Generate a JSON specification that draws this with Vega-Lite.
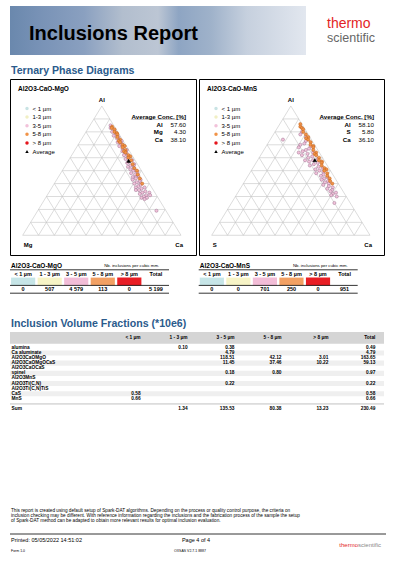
{
"$schema": "https://vega.github.io/schema/vega-lite/v6.json",
"background": "white",
"padding": {"left": 9, "top": 6, "right": 0, "bottom": 0},
"config": {
  "font": "Liberation Sans",
  "view": {"stroke": null},
  "locale": {"number": {"decimal": ".", "thousands": " ", "grouping": [3], "currency": ["", ""]}}
},
"datasets": {
  "grid": [
    {"a1":0,"c1":0,"a2":0,"c2":100},{"a1":10,"c1":0,"a2":10,"c2":90},{"a1":20,"c1":0,"a2":20,"c2":80},{"a1":30,"c1":0,"a2":30,"c2":70},{"a1":40,"c1":0,"a2":40,"c2":60},{"a1":50,"c1":0,"a2":50,"c2":50},{"a1":60,"c1":0,"a2":60,"c2":40},{"a1":70,"c1":0,"a2":70,"c2":30},{"a1":80,"c1":0,"a2":80,"c2":20},{"a1":90,"c1":0,"a2":90,"c2":10},
    {"a1":100,"c1":0,"a2":0,"c2":0},{"a1":90,"c1":10,"a2":0,"c2":10},{"a1":80,"c1":20,"a2":0,"c2":20},{"a1":70,"c1":30,"a2":0,"c2":30},{"a1":60,"c1":40,"a2":0,"c2":40},{"a1":50,"c1":50,"a2":0,"c2":50},{"a1":40,"c1":60,"a2":0,"c2":60},{"a1":30,"c1":70,"a2":0,"c2":70},{"a1":20,"c1":80,"a2":0,"c2":80},{"a1":10,"c1":90,"a2":0,"c2":90},
    {"a1":100,"c1":0,"a2":0,"c2":100},{"a1":90,"c1":0,"a2":0,"c2":90},{"a1":80,"c1":0,"a2":0,"c2":80},{"a1":70,"c1":0,"a2":0,"c2":70},{"a1":60,"c1":0,"a2":0,"c2":60},{"a1":50,"c1":0,"a2":0,"c2":50},{"a1":40,"c1":0,"a2":0,"c2":40},{"a1":30,"c1":0,"a2":0,"c2":30},{"a1":20,"c1":0,"a2":0,"c2":20},{"a1":10,"c1":0,"a2":0,"c2":10}
  ],
  "mgo": [
    {"cls":"3-5 µm","Al":85,"Mg":2,"Ca":13},{"cls":"3-5 µm","Al":83,"Mg":3,"Ca":14},{"cls":"3-5 µm","Al":81,"Mg":1.5,"Ca":17.5},{"cls":"3-5 µm","Al":80,"Mg":3.5,"Ca":16.5},{"cls":"3-5 µm","Al":78,"Mg":2.5,"Ca":19.5},{"cls":"3-5 µm","Al":77,"Mg":4,"Ca":19},{"cls":"3-5 µm","Al":76,"Mg":1.5,"Ca":22.5},{"cls":"3-5 µm","Al":75,"Mg":3,"Ca":22},{"cls":"3-5 µm","Al":73,"Mg":1,"Ca":26},{"cls":"3-5 µm","Al":72,"Mg":4,"Ca":24},{"cls":"3-5 µm","Al":71,"Mg":2,"Ca":27},{"cls":"3-5 µm","Al":70,"Mg":3,"Ca":27},{"cls":"3-5 µm","Al":69,"Mg":4.5,"Ca":26.5},{"cls":"3-5 µm","Al":67,"Mg":3.5,"Ca":29.5},{"cls":"3-5 µm","Al":66,"Mg":1.2,"Ca":32.8},{"cls":"3-5 µm","Al":65,"Mg":4.5,"Ca":30.5},{"cls":"3-5 µm","Al":64,"Mg":2.5,"Ca":33.5},{"cls":"3-5 µm","Al":63,"Mg":3.8,"Ca":33.2},{"cls":"3-5 µm","Al":62,"Mg":5,"Ca":33},{"cls":"3-5 µm","Al":61,"Mg":2.8,"Ca":36.2},{"cls":"3-5 µm","Al":60,"Mg":4,"Ca":36},{"cls":"3-5 µm","Al":59,"Mg":5.5,"Ca":35.5},{"cls":"3-5 µm","Al":58,"Mg":1.8,"Ca":40.2},{"cls":"3-5 µm","Al":57,"Mg":4.5,"Ca":38.5},{"cls":"3-5 µm","Al":56,"Mg":6,"Ca":38},{"cls":"3-5 µm","Al":55,"Mg":2,"Ca":43},{"cls":"3-5 µm","Al":54,"Mg":5,"Ca":41},{"cls":"3-5 µm","Al":54,"Mg":3,"Ca":43},{"cls":"3-5 µm","Al":53,"Mg":7,"Ca":40},{"cls":"3-5 µm","Al":52,"Mg":4,"Ca":44},{"cls":"3-5 µm","Al":51,"Mg":6.5,"Ca":42.5},{"cls":"3-5 µm","Al":50,"Mg":5,"Ca":45},{"cls":"3-5 µm","Al":50,"Mg":3.5,"Ca":46.5},{"cls":"3-5 µm","Al":49,"Mg":3,"Ca":48},{"cls":"3-5 µm","Al":48,"Mg":7.5,"Ca":44.5},{"cls":"3-5 µm","Al":47,"Mg":5.5,"Ca":47.5},{"cls":"3-5 µm","Al":46,"Mg":4,"Ca":50},{"cls":"3-5 µm","Al":45,"Mg":8,"Ca":47},{"cls":"3-5 µm","Al":45,"Mg":6,"Ca":49},{"cls":"3-5 µm","Al":44,"Mg":6.5,"Ca":49.5},{"cls":"3-5 µm","Al":43,"Mg":9,"Ca":48},{"cls":"3-5 µm","Al":43,"Mg":4,"Ca":53},{"cls":"3-5 µm","Al":42,"Mg":5,"Ca":53},{"cls":"3-5 µm","Al":41,"Mg":7.5,"Ca":51.5},{"cls":"3-5 µm","Al":40,"Mg":9.5,"Ca":50.5},{"cls":"3-5 µm","Al":40,"Mg":5.5,"Ca":54.5},{"cls":"3-5 µm","Al":39,"Mg":6,"Ca":55},{"cls":"3-5 µm","Al":38,"Mg":8,"Ca":54},{"cls":"3-5 µm","Al":37,"Mg":10,"Ca":53},{"cls":"3-5 µm","Al":37,"Mg":4.5,"Ca":58.5},{"cls":"3-5 µm","Al":36,"Mg":7,"Ca":57},{"cls":"3-5 µm","Al":35,"Mg":9,"Ca":56},{"cls":"3-5 µm","Al":35,"Mg":11,"Ca":54},{"cls":"3-5 µm","Al":34,"Mg":5.5,"Ca":60.5},{"cls":"3-5 µm","Al":33,"Mg":8,"Ca":59},{"cls":"3-5 µm","Al":33,"Mg":3.5,"Ca":63.5},{"cls":"3-5 µm","Al":32,"Mg":10,"Ca":58},{"cls":"3-5 µm","Al":31,"Mg":6.5,"Ca":62.5},{"cls":"3-5 µm","Al":31,"Mg":4,"Ca":65},{"cls":"3-5 µm","Al":30,"Mg":8.5,"Ca":61.5},{"cls":"3-5 µm","Al":29,"Mg":7,"Ca":64},{"cls":"3-5 µm","Al":29,"Mg":10.5,"Ca":60.5},{"cls":"3-5 µm","Al":28,"Mg":9,"Ca":63},{"cls":"3-5 µm","Al":19,"Mg":6,"Ca":75},
    {"cls":"5-8 µm","Al":84,"Mg":1.5,"Ca":14.5},{"cls":"5-8 µm","Al":83,"Mg":2.2,"Ca":14.8},{"cls":"5-8 µm","Al":82,"Mg":1,"Ca":17},{"cls":"5-8 µm","Al":80,"Mg":2,"Ca":18},{"cls":"5-8 µm","Al":79,"Mg":1,"Ca":20},{"cls":"5-8 µm","Al":78,"Mg":1.2,"Ca":20.8},{"cls":"5-8 µm","Al":76,"Mg":2.2,"Ca":21.8},{"cls":"5-8 µm","Al":74,"Mg":1.5,"Ca":24.5},{"cls":"5-8 µm","Al":73,"Mg":2.8,"Ca":24.2},{"cls":"5-8 µm","Al":72,"Mg":2.5,"Ca":25.5},{"cls":"5-8 µm","Al":70,"Mg":1.8,"Ca":28.2},{"cls":"5-8 µm","Al":69,"Mg":1,"Ca":30},{"cls":"5-8 µm","Al":68,"Mg":2.8,"Ca":29.2},{"cls":"5-8 µm","Al":66,"Mg":2,"Ca":32},{"cls":"5-8 µm","Al":65,"Mg":3.5,"Ca":31.5},{"cls":"5-8 µm","Al":64,"Mg":3,"Ca":33},{"cls":"5-8 µm","Al":62,"Mg":2.2,"Ca":35.8},{"cls":"5-8 µm","Al":61,"Mg":1.5,"Ca":37.5},{"cls":"5-8 µm","Al":60,"Mg":3.2,"Ca":36.8},{"cls":"5-8 µm","Al":58,"Mg":2.5,"Ca":39.5},{"cls":"5-8 µm","Al":55,"Mg":3,"Ca":42},{"cls":"5-8 µm","Al":52,"Mg":3.5,"Ca":44.5},{"cls":"5-8 µm","Al":50,"Mg":2.8,"Ca":47.2},{"cls":"5-8 µm","Al":47,"Mg":3.8,"Ca":49.2},{"cls":"5-8 µm","Al":44,"Mg":4,"Ca":52},{"cls":"5-8 µm","Al":40,"Mg":4.5,"Ca":55.5}
  ],
  "mns": [
    {"cls":"3-5 µm","Al":80,"S":3,"Ca":17},{"cls":"3-5 µm","Al":78,"S":5,"Ca":17},{"cls":"3-5 µm","Al":76,"S":2.5,"Ca":21.5},{"cls":"3-5 µm","Al":74,"S":18,"Ca":8},{"cls":"3-5 µm","Al":73,"S":4,"Ca":23},{"cls":"3-5 µm","Al":71,"S":6,"Ca":23},{"cls":"3-5 µm","Al":70,"S":9,"Ca":21},{"cls":"3-5 µm","Al":69,"S":3,"Ca":28},{"cls":"3-5 µm","Al":68,"S":11,"Ca":21},{"cls":"3-5 µm","Al":67,"S":5,"Ca":28},{"cls":"3-5 µm","Al":66,"S":7.5,"Ca":26.5},{"cls":"3-5 µm","Al":65,"S":10,"Ca":25},{"cls":"3-5 µm","Al":64,"S":4,"Ca":32},{"cls":"3-5 µm","Al":64,"S":13,"Ca":23},{"cls":"3-5 µm","Al":63,"S":8,"Ca":29},{"cls":"3-5 µm","Al":62,"S":12,"Ca":26},{"cls":"3-5 µm","Al":61,"S":6,"Ca":33},{"cls":"3-5 µm","Al":60,"S":9,"Ca":31},{"cls":"3-5 µm","Al":59,"S":3.5,"Ca":37.5},{"cls":"3-5 µm","Al":58,"S":7,"Ca":35},{"cls":"3-5 µm","Al":58,"S":12,"Ca":30},{"cls":"3-5 µm","Al":57,"S":10,"Ca":33},{"cls":"3-5 µm","Al":56,"S":5,"Ca":39},{"cls":"3-5 µm","Al":55,"S":8,"Ca":37},{"cls":"3-5 µm","Al":54,"S":11,"Ca":35},{"cls":"3-5 µm","Al":53,"S":6,"Ca":41},{"cls":"3-5 µm","Al":52,"S":4,"Ca":44},{"cls":"3-5 µm","Al":51,"S":9,"Ca":40},{"cls":"3-5 µm","Al":50,"S":7,"Ca":43},{"cls":"3-5 µm","Al":49,"S":5,"Ca":46},{"cls":"3-5 µm","Al":48,"S":10,"Ca":42},{"cls":"3-5 µm","Al":47,"S":6,"Ca":47},{"cls":"3-5 µm","Al":46,"S":8,"Ca":46},{"cls":"3-5 µm","Al":45,"S":4.5,"Ca":50.5},{"cls":"3-5 µm","Al":44,"S":7,"Ca":49},{"cls":"3-5 µm","Al":43,"S":9,"Ca":48},{"cls":"3-5 µm","Al":42,"S":5.5,"Ca":52.5},{"cls":"3-5 µm","Al":41,"S":8,"Ca":51},{"cls":"3-5 µm","Al":40,"S":6,"Ca":54},{"cls":"3-5 µm","Al":39,"S":10,"Ca":51},{"cls":"3-5 µm","Al":38,"S":7,"Ca":55},{"cls":"3-5 µm","Al":37,"S":5,"Ca":58},{"cls":"3-5 µm","Al":36,"S":9,"Ca":55},{"cls":"3-5 µm","Al":35,"S":6.5,"Ca":58.5},{"cls":"3-5 µm","Al":34,"S":8,"Ca":58},{"cls":"3-5 µm","Al":33,"S":5,"Ca":62},{"cls":"3-5 µm","Al":32,"S":7.5,"Ca":60.5},{"cls":"3-5 µm","Al":31,"S":9,"Ca":60},{"cls":"3-5 µm","Al":30,"S":6,"Ca":64},{"cls":"3-5 µm","Al":25,"S":10,"Ca":65},
    {"cls":"5-8 µm","Al":86,"S":1,"Ca":13},{"cls":"5-8 µm","Al":84,"S":2,"Ca":14},{"cls":"5-8 µm","Al":83,"S":1.5,"Ca":15.5},{"cls":"5-8 µm","Al":82,"S":1.2,"Ca":16.8},{"cls":"5-8 µm","Al":80,"S":2.2,"Ca":17.8},{"cls":"5-8 µm","Al":78,"S":1.5,"Ca":20.5},{"cls":"5-8 µm","Al":76,"S":1,"Ca":23},{"cls":"5-8 µm","Al":75,"S":2.8,"Ca":22.2},{"cls":"5-8 µm","Al":74,"S":2,"Ca":24},{"cls":"5-8 µm","Al":72,"S":1.5,"Ca":26.5},{"cls":"5-8 µm","Al":70,"S":2.5,"Ca":27.5},{"cls":"5-8 µm","Al":69,"S":1.2,"Ca":29.8},{"cls":"5-8 µm","Al":68,"S":1.8,"Ca":30.2},{"cls":"5-8 µm","Al":66,"S":2.8,"Ca":31.2},{"cls":"5-8 µm","Al":64,"S":2,"Ca":34},{"cls":"5-8 µm","Al":63,"S":3.5,"Ca":33.5},{"cls":"5-8 µm","Al":62,"S":3,"Ca":35},{"cls":"5-8 µm","Al":60,"S":2.2,"Ca":37.8},{"cls":"5-8 µm","Al":58,"S":3.2,"Ca":38.8},{"cls":"5-8 µm","Al":57,"S":1.8,"Ca":41.2},{"cls":"5-8 µm","Al":56,"S":2.5,"Ca":41.5},{"cls":"5-8 µm","Al":54,"S":3.5,"Ca":42.5},{"cls":"5-8 µm","Al":52,"S":2.8,"Ca":45.2},{"cls":"5-8 µm","Al":51,"S":2,"Ca":47},{"cls":"5-8 µm","Al":50,"S":3.8,"Ca":46.2},{"cls":"5-8 µm","Al":48,"S":3,"Ca":49},{"cls":"5-8 µm","Al":46,"S":4,"Ca":50},{"cls":"5-8 µm","Al":44,"S":3.5,"Ca":52.5},{"cls":"5-8 µm","Al":42,"S":4.2,"Ca":53.8},{"cls":"5-8 µm","Al":40,"S":3.8,"Ca":56.2}
  ],
  "mats": [
    {"mat":"alumina"},{"mat":"Ca aluminate"},{"mat":"Al2O3CaOMgO"},{"mat":"Al2O3CaOMgOCaS"},{"mat":"Al2O3CaOCaS"},{"mat":"spinel"},{"mat":"Al2O3MnS"},{"mat":"Al2O3Ti(C,N)"},{"mat":"Al2O3Ti(C,N)TiS"},{"mat":"CaS"},{"mat":"MnS"}
  ],
  "vol": [
    {"mat":"alumina","size":"1 - 3 µm","v":0.10},{"mat":"alumina","size":"3 - 5 µm","v":0.38},{"mat":"alumina","size":"Total","v":0.49},
    {"mat":"Ca aluminate","size":"3 - 5 µm","v":4.79},{"mat":"Ca aluminate","size":"Total","v":4.79},
    {"mat":"Al2O3CaOMgO","size":"3 - 5 µm","v":118.51},{"mat":"Al2O3CaOMgO","size":"5 - 8 µm","v":42.12},{"mat":"Al2O3CaOMgO","size":"> 8 µm","v":3.01},{"mat":"Al2O3CaOMgO","size":"Total","v":163.65},
    {"mat":"Al2O3CaOMgOCaS","size":"3 - 5 µm","v":11.45},{"mat":"Al2O3CaOMgOCaS","size":"5 - 8 µm","v":37.46},{"mat":"Al2O3CaOMgOCaS","size":"> 8 µm","v":10.22},{"mat":"Al2O3CaOMgOCaS","size":"Total","v":59.13},
    {"mat":"spinel","size":"3 - 5 µm","v":0.18},{"mat":"spinel","size":"5 - 8 µm","v":0.80},{"mat":"spinel","size":"Total","v":0.97},
    {"mat":"Al2O3Ti(C,N)","size":"3 - 5 µm","v":0.22},{"mat":"Al2O3Ti(C,N)","size":"Total","v":0.22},
    {"mat":"CaS","size":"< 1 µm","v":0.58},{"mat":"CaS","size":"Total","v":0.58},
    {"mat":"MnS","size":"< 1 µm","v":0.66},{"mat":"MnS","size":"Total","v":0.66},
    {"mat":"Sum","size":"1 - 3 µm","v":1.34},{"mat":"Sum","size":"3 - 5 µm","v":135.53},{"mat":"Sum","size":"5 - 8 µm","v":80.38},{"mat":"Sum","size":"> 8 µm","v":13.23},{"mat":"Sum","size":"Total","v":230.49}
  ]
},
"spacing": 0,
"bounds": "full",
"resolve": {"scale": {"color": "independent", "shape": "independent", "stroke": "independent"}, "legend": {"color": "independent", "shape": "independent", "stroke": "independent"}},
"vconcat": [
  {
    "spacing": 21, "bounds": "flush",
    "hconcat": [
      {
        "width": 296, "height": 49,
        "data": {"values": [{}]},
        "title": {"text": "Inclusions  Report", "anchor": "start", "frame": "group", "fontSize": 20, "fontWeight": "bold", "color": "#000", "offset": -37.5, "dx": 19},
        "mark": {"type": "rect", "color": {"gradient": "linear", "x1": 0, "y1": 0, "x2": 1, "y2": 0, "stops": [
          {"offset": 0, "color": "#6a88ad"}, {"offset": 0.1, "color": "#7892b6"}, {"offset": 0.25, "color": "#8aa0c0"}, {"offset": 0.38, "color": "#b2bece"}, {"offset": 0.5, "color": "#bcc6d4"}, {"offset": 0.57, "color": "#8ea5c3"}, {"offset": 0.68, "color": "#9fb2ca"}, {"offset": 0.8, "color": "#c6d0de"}, {"offset": 1, "color": "#e2e7ef"}]}},
        "encoding": {}
      },
      {
        "width": 50, "height": 49,
        "data": {"values": [{}]},
        "title": {"text": "thermo", "subtitle": "scientific", "anchor": "start", "frame": "group", "fontSize": 14, "fontWeight": "normal", "color": "#e31e25", "subtitleFontSize": 12.5, "subtitleColor": "#666666", "subtitlePadding": 1.2, "offset": -38.9},
        "mark": {"type": "rect", "opacity": 0},
        "encoding": {}
      }
    ]
  },
  {
    "width": 300, "height": 23,
    "data": {"values": [{}]},
    "title": {"text": "Ternary Phase Diagrams", "anchor": "start", "frame": "group", "fontSize": 10.6, "fontWeight": "bold", "color": "#2b5b8c", "offset": -21.7, "dx": 1},
    "mark": {"type": "rect", "opacity": 0},
    "encoding": {}
  },
  {
    "spacing": 3, "bounds": "flush",
    "resolve": {"scale": {"color": "independent", "shape": "independent", "stroke": "independent"}, "legend": {"color": "independent", "shape": "independent", "stroke": "independent"}},
    "hconcat": [
      {
        "width": 186, "height": 176,
        "view": {"stroke": "#000", "strokeWidth": 1},
        "title": {"text": "Al2O3-CaO-MgO", "anchor": "start", "frame": "group", "fontSize": 6.5, "fontWeight": "bold", "color": "#000", "offset": -13.4, "dx": 8},
        "resolve": {"scale": {"x": "independent", "y": "independent"}},
        "layer": [
          {
            "layer": [
              {
                "data": {"name": "grid"},
                "transform": [{"calculate": "datum.c1 + datum.a1 / 2", "as": "x1"}, {"calculate": "datum.c2 + datum.a2 / 2", "as": "x2"}],
                "mark": {"type": "rule", "color": "#c4c4c4", "strokeWidth": 0.6},
                "encoding": {
                  "x": {"field": "x1", "type": "quantitative", "scale": {"domain": [-8.02, 109.48], "nice": false, "zero": false}, "axis": null},
                  "y": {"field": "a1", "type": "quantitative", "scale": {"domain": [-15.24, 120.88], "nice": false, "zero": false}, "axis": null},
                  "x2": {"field": "x2"},
                  "y2": {"field": "a2"}
                }
              },
              {
                "data": {"name": "mgo"},
                "transform": [{"calculate": "datum.Ca + datum.Al / 2", "as": "px"}],
                "mark": {"type": "point", "filled": true, "size": 10, "strokeWidth": 0.5, "opacity": 1},
                "encoding": {
                  "x": {"field": "px", "type": "quantitative", "scale": {"domain": [-8.02, 109.48], "nice": false, "zero": false}, "axis": null},
                  "y": {"field": "Al", "type": "quantitative", "scale": {"domain": [-15.24, 120.88], "nice": false, "zero": false}, "axis": null},
                  "color": {"field": "cls", "type": "nominal",
                    "scale": {"domain": ["< 1 µm","1-3 µm","3-5 µm","5-8 µm","> 8 µm","Average"], "range": ["#c9e3e4","#f1efc4","#f2c2da","#f19347","#e5141c","#000000"]},
                    "legend": {"orient": "none", "legendX": 14, "legendY": 26.5, "title": null, "padding": 0, "labelFontSize": 6, "labelColor": "#000", "symbolSize": 12, "rowPadding": 2.6, "labelOffset": 2.5, "symbolStrokeWidth": 0,
                      "encode": {"labels": {"update": {"fontStyle": {"signal": "datum.label == 'Average' ? 'italic' : 'normal'"}}}}}},
                  "shape": {"field": "cls", "type": "nominal", "scale": {"domain": ["< 1 µm","1-3 µm","3-5 µm","5-8 µm","> 8 µm","Average"], "range": ["circle","circle","circle","circle","circle","triangle-up"]}},
                  "stroke": {"field": "cls", "type": "nominal", "scale": {"domain": ["< 1 µm","1-3 µm","3-5 µm","5-8 µm","> 8 µm","Average"], "range": ["#8fb0b0","#b8b070","#9c7290","#c0601e","#a00000","#000000"]}, "legend": null}
                }
              },
              {
                "data": {"values": [{"cls": "Average", "Al": 57.6, "Mg": 4.3, "Ca": 38.1}]},
                "transform": [{"calculate": "datum.Ca + datum.Al / 2", "as": "px"}],
                "mark": {"type": "point", "filled": true, "size": 14, "strokeWidth": 0.5, "opacity": 1},
                "encoding": {
                  "x": {"field": "px", "type": "quantitative", "scale": {"domain": [-8.02, 109.48], "nice": false, "zero": false}, "axis": null},
                  "y": {"field": "Al", "type": "quantitative", "scale": {"domain": [-15.24, 120.88], "nice": false, "zero": false}, "axis": null},
                  "color": {"field": "cls", "type": "nominal"},
                  "shape": {"field": "cls", "type": "nominal"},
                  "stroke": {"field": "cls", "type": "nominal", "legend": null}
                }
              },
              {
                "data": {"values": [{"v": "Al", "Al": 100, "Ca": 0}]},
                "transform": [{"calculate": "datum.Ca + datum.Al / 2", "as": "px"}],
                "mark": {"type": "text", "fontSize": 6, "fontWeight": "bold", "baseline": "middle", "align": "center", "dy": -6},
                "encoding": {"x": {"field": "px", "type": "quantitative"}, "y": {"field": "Al", "type": "quantitative"}, "text": {"field": "v"}}
              },
              {
                "data": {"values": [{"v": "Mg", "Al": 0, "Ca": 0}]},
                "transform": [{"calculate": "datum.Ca + datum.Al / 2", "as": "px"}],
                "mark": {"type": "text", "fontSize": 6, "fontWeight": "bold", "baseline": "middle", "align": "left", "dy": 10, "dx": 1},
                "encoding": {"x": {"field": "px", "type": "quantitative"}, "y": {"field": "Al", "type": "quantitative"}, "text": {"field": "v"}}
              },
              {
                "data": {"values": [{"v": "Ca", "Al": 0, "Ca": 100}]},
                "transform": [{"calculate": "datum.Ca + datum.Al / 2", "as": "px"}],
                "mark": {"type": "text", "fontSize": 6, "fontWeight": "bold", "baseline": "middle", "align": "right", "dy": 10, "dx": 2},
                "encoding": {"x": {"field": "px", "type": "quantitative"}, "y": {"field": "Al", "type": "quantitative"}, "text": {"field": "v"}}
              }
            ]
          },
          {
            "layer": [
              {
                "data": {"values": [{"el": "Al", "v": 57.6}, {"el": "Mg", "v": 4.3}, {"el": "Ca", "v": 38.1}]},
                "mark": {"type": "text", "align": "right", "baseline": "middle", "fontSize": 6.2, "fontWeight": "bold"},
                "encoding": {
                  "x": {"datum": "lab", "type": "nominal", "scale": {"type": "point", "domain": ["lab", "val"], "range": [152.7, 176], "padding": 0}, "axis": null},
                  "y": {"field": "el", "type": "nominal", "scale": {"type": "point", "domain": ["hdr", "Al", "Mg", "Ca"], "range": [38, 60.5], "padding": 0}, "axis": null},
                  "text": {"field": "el"}
                }
              },
              {
                "data": {"values": [{"el": "Al", "v": 57.6}, {"el": "Mg", "v": 4.3}, {"el": "Ca", "v": 38.1}]},
                "mark": {"type": "text", "align": "right", "baseline": "middle", "fontSize": 6.2},
                "encoding": {
                  "x": {"datum": "val", "type": "nominal", "axis": null},
                  "y": {"field": "el", "type": "nominal", "axis": null},
                  "text": {"field": "v", "type": "quantitative", "format": ".2f"}
                }
              },
              {
                "data": {"values": [{}]},
                "mark": {"type": "text", "align": "right", "baseline": "middle", "fontSize": 6.2, "fontWeight": "bold"},
                "encoding": {
                  "x": {"datum": "val", "type": "nominal", "axis": null},
                  "y": {"datum": "hdr", "type": "nominal", "axis": null},
                  "text": {"value": "Average Conc. [%]"}
                }
              },
              {
                "data": {"values": [{}]},
                "mark": {"type": "text", "align": "right", "baseline": "middle", "fontSize": 6.2, "fontWeight": "bold"},
                "encoding": {
                  "x": {"datum": "val", "type": "nominal", "axis": null},
                  "y": {"datum": "hdr", "type": "nominal", "axis": null},
                  "text": {"value": "________________"}
                }
              }
            ]
          }
        ]
      },
      {
        "width": 185, "height": 176,
        "view": {"stroke": "#000", "strokeWidth": 1},
        "title": {"text": "Al2O3-CaO-MnS", "anchor": "start", "frame": "group", "fontSize": 6.5, "fontWeight": "bold", "color": "#000", "offset": -13.4, "dx": 8},
        "resolve": {"scale": {"x": "independent", "y": "independent"}},
        "layer": [
          {
            "layer": [
              {
                "data": {"name": "grid"},
                "transform": [{"calculate": "datum.c1 + datum.a1 / 2", "as": "x1"}, {"calculate": "datum.c2 + datum.a2 / 2", "as": "x2"}],
                "mark": {"type": "rule", "color": "#c4c4c4", "strokeWidth": 0.6},
                "encoding": {
                  "x": {"field": "x1", "type": "quantitative", "scale": {"domain": [-8.02, 108.85], "nice": false, "zero": false}, "axis": null},
                  "y": {"field": "a1", "type": "quantitative", "scale": {"domain": [-15.24, 120.88], "nice": false, "zero": false}, "axis": null},
                  "x2": {"field": "x2"},
                  "y2": {"field": "a2"}
                }
              },
              {
                "data": {"name": "mns"},
                "transform": [{"calculate": "datum.Ca + datum.Al / 2", "as": "px"}],
                "mark": {"type": "point", "filled": true, "size": 10, "strokeWidth": 0.5, "opacity": 1},
                "encoding": {
                  "x": {"field": "px", "type": "quantitative", "scale": {"domain": [-8.02, 108.85], "nice": false, "zero": false}, "axis": null},
                  "y": {"field": "Al", "type": "quantitative", "scale": {"domain": [-15.24, 120.88], "nice": false, "zero": false}, "axis": null},
                  "color": {"field": "cls", "type": "nominal",
                    "scale": {"domain": ["< 1 µm","1-3 µm","3-5 µm","5-8 µm","> 8 µm","Average"], "range": ["#c9e3e4","#f1efc4","#f2c2da","#f19347","#e5141c","#000000"]},
                    "legend": {"orient": "none", "legendX": 14, "legendY": 26.5, "title": null, "padding": 0, "labelFontSize": 6, "labelColor": "#000", "symbolSize": 12, "rowPadding": 2.6, "labelOffset": 2.5, "symbolStrokeWidth": 0,
                      "encode": {"labels": {"update": {"fontStyle": {"signal": "datum.label == 'Average' ? 'italic' : 'normal'"}}}}}},
                  "shape": {"field": "cls", "type": "nominal", "scale": {"domain": ["< 1 µm","1-3 µm","3-5 µm","5-8 µm","> 8 µm","Average"], "range": ["circle","circle","circle","circle","circle","triangle-up"]}},
                  "stroke": {"field": "cls", "type": "nominal", "scale": {"domain": ["< 1 µm","1-3 µm","3-5 µm","5-8 µm","> 8 µm","Average"], "range": ["#8fb0b0","#b8b070","#9c7290","#c0601e","#a00000","#000000"]}, "legend": null}
                }
              },
              {
                "data": {"values": [{"cls": "Average", "Al": 58.1, "S": 5.8, "Ca": 36.1}]},
                "transform": [{"calculate": "datum.Ca + datum.Al / 2", "as": "px"}],
                "mark": {"type": "point", "filled": true, "size": 14, "strokeWidth": 0.5, "opacity": 1},
                "encoding": {
                  "x": {"field": "px", "type": "quantitative", "scale": {"domain": [-8.02, 108.85], "nice": false, "zero": false}, "axis": null},
                  "y": {"field": "Al", "type": "quantitative", "scale": {"domain": [-15.24, 120.88], "nice": false, "zero": false}, "axis": null},
                  "color": {"field": "cls", "type": "nominal"},
                  "shape": {"field": "cls", "type": "nominal"},
                  "stroke": {"field": "cls", "type": "nominal", "legend": null}
                }
              },
              {
                "data": {"values": [{"v": "Al", "Al": 100, "Ca": 0}]},
                "transform": [{"calculate": "datum.Ca + datum.Al / 2", "as": "px"}],
                "mark": {"type": "text", "fontSize": 6, "fontWeight": "bold", "baseline": "middle", "align": "center", "dy": -6},
                "encoding": {"x": {"field": "px", "type": "quantitative"}, "y": {"field": "Al", "type": "quantitative"}, "text": {"field": "v"}}
              },
              {
                "data": {"values": [{"v": "S", "Al": 0, "Ca": 0}]},
                "transform": [{"calculate": "datum.Ca + datum.Al / 2", "as": "px"}],
                "mark": {"type": "text", "fontSize": 6, "fontWeight": "bold", "baseline": "middle", "align": "left", "dy": 10, "dx": 1},
                "encoding": {"x": {"field": "px", "type": "quantitative"}, "y": {"field": "Al", "type": "quantitative"}, "text": {"field": "v"}}
              },
              {
                "data": {"values": [{"v": "Ca", "Al": 0, "Ca": 100}]},
                "transform": [{"calculate": "datum.Ca + datum.Al / 2", "as": "px"}],
                "mark": {"type": "text", "fontSize": 6, "fontWeight": "bold", "baseline": "middle", "align": "right", "dy": 10, "dx": 2},
                "encoding": {"x": {"field": "px", "type": "quantitative"}, "y": {"field": "Al", "type": "quantitative"}, "text": {"field": "v"}}
              }
            ]
          },
          {
            "layer": [
              {
                "data": {"values": [{"el": "Al", "v": 58.1}, {"el": "S", "v": 5.8}, {"el": "Ca", "v": 36.1}]},
                "mark": {"type": "text", "align": "right", "baseline": "middle", "fontSize": 6.2, "fontWeight": "bold"},
                "encoding": {
                  "x": {"datum": "lab", "type": "nominal", "scale": {"type": "point", "domain": ["lab", "val"], "range": [151.7, 175], "padding": 0}, "axis": null},
                  "y": {"field": "el", "type": "nominal", "scale": {"type": "point", "domain": ["hdr", "Al", "S", "Ca"], "range": [38, 60.5], "padding": 0}, "axis": null},
                  "text": {"field": "el"}
                }
              },
              {
                "data": {"values": [{"el": "Al", "v": 58.1}, {"el": "S", "v": 5.8}, {"el": "Ca", "v": 36.1}]},
                "mark": {"type": "text", "align": "right", "baseline": "middle", "fontSize": 6.2},
                "encoding": {
                  "x": {"datum": "val", "type": "nominal", "axis": null},
                  "y": {"field": "el", "type": "nominal", "axis": null},
                  "text": {"field": "v", "type": "quantitative", "format": ".2f"}
                }
              },
              {
                "data": {"values": [{}]},
                "mark": {"type": "text", "align": "right", "baseline": "middle", "fontSize": 6.2, "fontWeight": "bold"},
                "encoding": {
                  "x": {"datum": "val", "type": "nominal", "axis": null},
                  "y": {"datum": "hdr", "type": "nominal", "axis": null},
                  "text": {"value": "Average Conc. [%]"}
                }
              },
              {
                "data": {"values": [{}]},
                "mark": {"type": "text", "align": "right", "baseline": "middle", "fontSize": 6.2, "fontWeight": "bold"},
                "encoding": {
                  "x": {"datum": "val", "type": "nominal", "axis": null},
                  "y": {"datum": "hdr", "type": "nominal", "axis": null},
                  "text": {"value": "________________"}
                }
              }
            ]
          }
        ]
      }
    ]
  },
  {"width": 1, "height": 5.5, "data": {"values": [{}]}, "mark": {"type": "rect", "opacity": 0}, "encoding": {}},
  {
    "spacing": 29.7, "bounds": "flush",
    "resolve": {"scale": {"color": "independent"}, "legend": {"color": "independent"}},
    "hconcat": [
      {
        "width": 159, "height": 31.2,
        "data": {"values": [{"size": "< 1 µm", "n": 0}, {"size": "1 - 3 µm", "n": 507}, {"size": "3 - 5 µm", "n": 4579}, {"size": "5 - 8 µm", "n": 113}, {"size": "> 8 µm", "n": 0}, {"size": "Total", "n": 5199}]},
        "layer": [
          {
            "transform": [{"filter": "datum.size != 'Total'"}],
            "mark": {"type": "rect"},
            "encoding": {
              "x": {"field": "size", "type": "nominal", "scale": {"type": "band", "domain": ["< 1 µm","1 - 3 µm","3 - 5 µm","5 - 8 µm","> 8 µm","Total"], "paddingInner": 0.09, "paddingOuter": 0.04}, "axis": null},
              "y": {"datum": "box", "type": "nominal", "scale": {"type": "band", "domain": ["note","lbl","box","val"], "paddingInner": 0, "paddingOuter": 0}, "axis": null},
              "color": {"field": "size", "type": "nominal", "scale": {"domain": ["< 1 µm","1 - 3 µm","3 - 5 µm","5 - 8 µm","> 8 µm"], "range": ["#c6e5e7","#f7f4c6","#f2bdd7","#f2a063","#e81e25"]}, "legend": null}
            }
          },
          {
            "mark": {"type": "text", "fontSize": 5.5, "fontWeight": "bold", "baseline": "middle"},
            "encoding": {
              "x": {"field": "size", "type": "nominal", "axis": null},
              "y": {"datum": "lbl", "type": "nominal", "axis": null},
              "text": {"field": "size"}
            }
          },
          {
            "mark": {"type": "text", "fontSize": 5.5, "fontWeight": "bold", "baseline": "middle"},
            "encoding": {
              "x": {"field": "size", "type": "nominal", "axis": null},
              "y": {"datum": "val", "type": "nominal", "axis": null},
              "text": {"field": "n", "type": "quantitative", "format": ","}
            }
          },
          {
            "data": {"values": [{}]},
            "mark": {"type": "rule", "color": "#000", "strokeWidth": 0.8},
            "encoding": {"y": {"datum": "lbl", "type": "nominal", "axis": null, "bandPosition": 0}}
          },
          {
            "data": {"values": [{}]},
            "mark": {"type": "rule", "color": "#000", "strokeWidth": 0.8},
            "encoding": {"y": {"datum": "val", "type": "nominal", "axis": null, "bandPosition": 0}}
          },
          {
            "data": {"values": [{}]},
            "mark": {"type": "rule", "color": "#000", "strokeWidth": 0.8},
            "encoding": {"y": {"datum": "val", "type": "nominal", "axis": null, "bandPosition": 1}}
          },
          {
            "data": {"values": [{}]},
            "mark": {"type": "text", "align": "left", "baseline": "middle", "fontSize": 6.5, "fontWeight": "bold"},
            "encoding": {
              "x": {"datum": "< 1 µm", "type": "nominal", "axis": null, "bandPosition": 0},
              "y": {"datum": "note", "type": "nominal", "axis": null},
              "text": {"value": "Al2O3-CaO-MgO"}
            }
          },
          {
            "data": {"values": [{}]},
            "mark": {"type": "text", "align": "center", "baseline": "middle", "fontSize": 4.3},
            "encoding": {
              "x": {"datum": "> 8 µm", "type": "nominal", "axis": null, "bandPosition": 0.6},
              "y": {"datum": "note", "type": "nominal", "axis": null},
              "text": {"value": "Nb. inclusions per cubic mm."}
            }
          }
        ]
      },
      {
        "width": 159, "height": 31.2,
        "data": {"values": [{"size": "< 1 µm", "n": 0}, {"size": "1 - 3 µm", "n": 0}, {"size": "3 - 5 µm", "n": 701}, {"size": "5 - 8 µm", "n": 250}, {"size": "> 8 µm", "n": 0}, {"size": "Total", "n": 951}]},
        "layer": [
          {
            "transform": [{"filter": "datum.size != 'Total'"}],
            "mark": {"type": "rect"},
            "encoding": {
              "x": {"field": "size", "type": "nominal", "scale": {"type": "band", "domain": ["< 1 µm","1 - 3 µm","3 - 5 µm","5 - 8 µm","> 8 µm","Total"], "paddingInner": 0.09, "paddingOuter": 0.04}, "axis": null},
              "y": {"datum": "box", "type": "nominal", "scale": {"type": "band", "domain": ["note","lbl","box","val"], "paddingInner": 0, "paddingOuter": 0}, "axis": null},
              "color": {"field": "size", "type": "nominal", "scale": {"domain": ["< 1 µm","1 - 3 µm","3 - 5 µm","5 - 8 µm","> 8 µm"], "range": ["#c6e5e7","#f7f4c6","#f2bdd7","#f2a063","#e81e25"]}, "legend": null}
            }
          },
          {
            "mark": {"type": "text", "fontSize": 5.5, "fontWeight": "bold", "baseline": "middle"},
            "encoding": {
              "x": {"field": "size", "type": "nominal", "axis": null},
              "y": {"datum": "lbl", "type": "nominal", "axis": null},
              "text": {"field": "size"}
            }
          },
          {
            "mark": {"type": "text", "fontSize": 5.5, "fontWeight": "bold", "baseline": "middle"},
            "encoding": {
              "x": {"field": "size", "type": "nominal", "axis": null},
              "y": {"datum": "val", "type": "nominal", "axis": null},
              "text": {"field": "n", "type": "quantitative", "format": ","}
            }
          },
          {
            "data": {"values": [{}]},
            "mark": {"type": "rule", "color": "#000", "strokeWidth": 0.8},
            "encoding": {"y": {"datum": "lbl", "type": "nominal", "axis": null, "bandPosition": 0}}
          },
          {
            "data": {"values": [{}]},
            "mark": {"type": "rule", "color": "#000", "strokeWidth": 0.8},
            "encoding": {"y": {"datum": "val", "type": "nominal", "axis": null, "bandPosition": 0}}
          },
          {
            "data": {"values": [{}]},
            "mark": {"type": "rule", "color": "#000", "strokeWidth": 0.8},
            "encoding": {"y": {"datum": "val", "type": "nominal", "axis": null, "bandPosition": 1}}
          },
          {
            "data": {"values": [{}]},
            "mark": {"type": "text", "align": "left", "baseline": "middle", "fontSize": 6.5, "fontWeight": "bold"},
            "encoding": {
              "x": {"datum": "< 1 µm", "type": "nominal", "axis": null, "bandPosition": 0},
              "y": {"datum": "note", "type": "nominal", "axis": null},
              "text": {"value": "Al2O3-CaO-MnS"}
            }
          },
          {
            "data": {"values": [{}]},
            "mark": {"type": "text", "align": "center", "baseline": "middle", "fontSize": 4.3},
            "encoding": {
              "x": {"datum": "> 8 µm", "type": "nominal", "axis": null, "bandPosition": 0.6},
              "y": {"datum": "note", "type": "nominal", "axis": null},
              "text": {"value": "Nb. inclusions per cubic mm."}
            }
          }
        ]
      }
    ]
  },
  {
    "width": 300, "height": 37.9,
    "data": {"values": [{}]},
    "title": {"text": "Inclusion Volume Fractions (*10e6)", "anchor": "start", "frame": "group", "fontSize": 10.6, "fontWeight": "bold", "color": "#2b5b8c", "offset": -35.8, "dx": 1},
    "mark": {"type": "rect", "opacity": 0},
    "encoding": {}
  },
  {
    "spacing": 1.3, "bounds": "flush",
    "vconcat": [
      {
        "width": 374, "height": 11.7,
        "view": {"fill": "#d5d5d5", "stroke": null},
        "data": {"values": [{"size": "< 1 µm"}, {"size": "1 - 3 µm"}, {"size": "3 - 5 µm"}, {"size": "5 - 8 µm"}, {"size": "> 8 µm"}, {"size": "Total"}]},
        "mark": {"type": "text", "align": "right", "baseline": "middle", "fontSize": 4.8, "fontWeight": "bold"},
        "encoding": {
          "x": {"field": "size", "type": "nominal", "scale": {"type": "point", "domain": ["< 1 µm","1 - 3 µm","3 - 5 µm","5 - 8 µm","> 8 µm","Total"], "range": [130.6, 365.4], "padding": 0}, "axis": null},
          "text": {"field": "size"}
        }
      },
      {
        "width": 374, "height": 66.3,
        "layer": [
          {
            "data": {"name": "mats"},
            "transform": [{"window": [{"op": "row_number", "as": "rn"}]}, {"filter": "datum.rn % 2 == 0"}],
            "mark": {"type": "rect", "color": "#efefef"},
            "encoding": {
              "y": {"field": "mat", "type": "nominal",
                "scale": {"type": "band", "domain": ["alumina","Ca aluminate","Al2O3CaOMgO","Al2O3CaOMgOCaS","Al2O3CaOCaS","spinel","Al2O3MnS","Al2O3Ti(C,N)","Al2O3Ti(C,N)TiS","CaS","MnS","gap","Sum"], "paddingInner": 0, "paddingOuter": 0},
                "axis": {"orient": "left", "title": null, "domain": false, "ticks": false, "tickSize": 0, "labelAlign": "left", "labelPadding": -1, "labelFontSize": 4.8, "labelFontWeight": "bold", "labelColor": "#000", "labelOverlap": false, "labelBound": false, "labelBaseline": "middle", "labelExpr": "datum.value == 'gap' ? '' : datum.value"}}
            }
          },
          {
            "data": {"values": [{}]},
            "mark": {"type": "rule", "color": "#a8a8a8", "strokeWidth": 0.7},
            "encoding": {"y": {"datum": "gap", "type": "nominal", "bandPosition": 0.5}}
          },
          {
            "data": {"name": "vol"},
            "mark": {"type": "text", "align": "right", "baseline": "middle", "fontSize": 4.8, "fontWeight": "bold"},
            "encoding": {
              "x": {"field": "size", "type": "nominal", "scale": {"type": "point", "domain": ["< 1 µm","1 - 3 µm","3 - 5 µm","5 - 8 µm","> 8 µm","Total"], "range": [130.6, 365.4], "padding": 0}, "axis": null},
              "y": {"field": "mat", "type": "nominal"},
              "text": {"field": "v", "type": "quantitative", "format": ".2f"}
            }
          }
        ]
      }
    ]
  },
  {
    "width": 300, "height": 121,
    "data": {"values": [{}]},
    "title": {"text": ["This report is created using default setup of Spark-DAT algorithms. Depending on the process or quality control purpose, the criteria on", "inclusion checking may be different. With reference information regarding the inclusions and the fabrication process of the sample the setup", "of Spark-DAT method can be adapted to obtain more relevant results for optimal inclusion evaluation."], "anchor": "start", "frame": "group", "fontSize": 4.7, "lineHeight": 5.3, "fontWeight": "normal", "color": "#000", "offset": -110.8, "dx": 1},
    "mark": {"type": "rect", "opacity": 0},
    "encoding": {}
  },
  {
    "width": 376, "height": 18,
    "data": {"values": [{}]},
    "layer": [
      {
        "mark": {"type": "rule", "color": "#000", "strokeWidth": 0.8},
        "encoding": {"y": {"datum": "line", "type": "nominal", "scale": {"type": "point", "domain": ["line","r1","r15","r2"], "range": [0, 16.7], "padding": 0}, "axis": null}}
      },
      {
        "mark": {"type": "text", "align": "left", "baseline": "middle", "fontSize": 5.5},
        "encoding": {
          "x": {"datum": "L", "type": "nominal", "scale": {"type": "point", "domain": ["L","C","R"], "range": [1, 371], "padding": 0}, "axis": null},
          "y": {"datum": "r1", "type": "nominal", "axis": null},
          "text": {"value": "Printed: 05/05/2022  14:51:02"}
        }
      },
      {
        "mark": {"type": "text", "align": "center", "baseline": "middle", "fontSize": 5.5},
        "encoding": {
          "x": {"datum": "C", "type": "nominal", "axis": null},
          "y": {"datum": "r1", "type": "nominal", "axis": null},
          "text": {"value": "Page 4 of 4"}
        }
      },
      {
        "mark": {"type": "text", "align": "right", "baseline": "middle", "fontSize": 6, "color": "#e31e25", "dx": -23},
        "encoding": {
          "x": {"datum": "R", "type": "nominal", "axis": null},
          "y": {"datum": "r15", "type": "nominal", "axis": null},
          "text": {"value": "thermo"}
        }
      },
      {
        "mark": {"type": "text", "align": "right", "baseline": "middle", "fontSize": 6, "color": "#888888"},
        "encoding": {
          "x": {"datum": "R", "type": "nominal", "axis": null},
          "y": {"datum": "r15", "type": "nominal", "axis": null},
          "text": {"value": "scientific"}
        }
      },
      {
        "mark": {"type": "text", "align": "left", "baseline": "middle", "fontSize": 3.5},
        "encoding": {
          "x": {"datum": "L", "type": "nominal", "axis": null},
          "y": {"datum": "r2", "type": "nominal", "axis": null},
          "text": {"value": "Form 1.0"}
        }
      },
      {
        "mark": {"type": "text", "align": "center", "baseline": "middle", "fontSize": 3.5, "dx": -6},
        "encoding": {
          "x": {"datum": "C", "type": "nominal", "axis": null},
          "y": {"datum": "r2", "type": "nominal", "axis": null},
          "text": {"value": "OXSAS V2.7.1 8887"}
        }
      }
    ]
  }
]
}
